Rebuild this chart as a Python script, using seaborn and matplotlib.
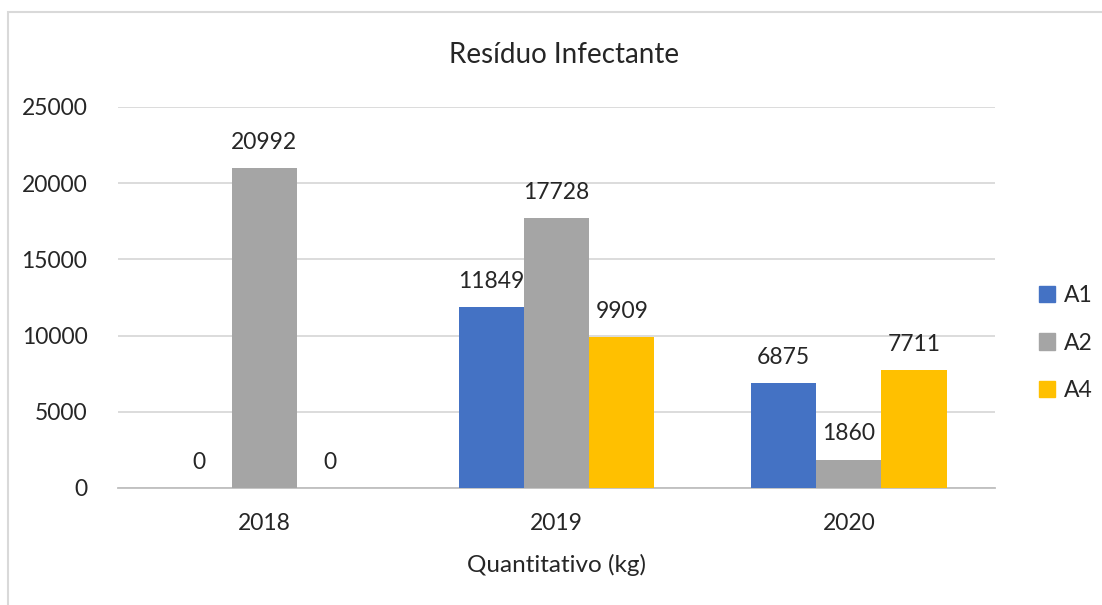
import numpy as np
import pandas as pd
import matplotlib.pyplot as plt
import seaborn as sns
from matplotlib.patches import Rectangle

# dados
anos = ["2018", "2019", "2020"]
series = ["A1", "A2", "A4"]
a1 = [0, 11849, 6875]
a2 = [20992, 17728, 1860]
a4 = [0, 9909, 7711]
cores = {"A1": "#4472C4", "A2": "#A5A5A5", "A4": "#FFC000"}

df = pd.DataFrame({
    "Ano": anos * 3,
    "Serie": ["A1"] * 3 + ["A2"] * 3 + ["A4"] * 3,
    "Valor": a1 + a2 + a4,
})

sns.set_theme(style="white")
plt.rcParams["font.family"] = ["Lato", "DejaVu Sans"]
txt = "#262626"
fs = 16.5

fig = plt.figure(figsize=(11.02, 6.05), dpi=100)
ax = fig.add_axes([118 / 1102, 1 - 488 / 605, 877 / 1102, 381 / 605])

# moldura do gráfico
fig.patches.append(Rectangle((8 / 1102, -0.1), 1.2, 1 - 12 / 605 + 0.1,
                             transform=fig.transFigure, fill=False,
                             edgecolor="#D9D9D9", linewidth=1.5))

sns.barplot(data=df, x="Ano", y="Valor", hue="Serie", hue_order=series,
            palette=cores, width=0.67, gap=0, saturation=1, ax=ax,
            legend=False, linewidth=0, zorder=3)

for cont in ax.containers:
    ax.bar_label(cont, fmt="%d", padding=11, fontsize=fs, color=txt)

ax.set_ylim(0, 25000)
ax.set_yticks(np.arange(0, 25001, 5000))
ax.yaxis.grid(True, color="#D9D9D9", linewidth=1.3, zorder=0)
ax.set_axisbelow(True)
for s in ["top", "right", "left"]:
    ax.spines[s].set_visible(False)
ax.spines["bottom"].set_color("#BFBFBF")
ax.spines["bottom"].set_linewidth(1.3)
ax.tick_params(axis="both", length=0, labelsize=fs, colors=txt)
ax.tick_params(axis="y", pad=22)
ax.tick_params(axis="x", pad=18)
ax.set_ylabel("")
ax.set_xlabel("Quantitativo (kg)", fontsize=17.5, color=txt, labelpad=14)
fig.text(0.512, 1 - 55 / 605, "Resíduo Infectante", ha="center", va="center",
         fontsize=20, color=txt)

# legenda
handles = [Rectangle((0, 0), 1, 1, color=cores[s]) for s in series]
fig.legend(handles, series, loc="center left", bbox_to_anchor=(1039 / 1102, 1 - 343 / 605),
           frameon=False, fontsize=fs, handlelength=0.7, handleheight=0.7,
           handletextpad=0.4, labelspacing=1.15, labelcolor=txt,
           borderpad=0, borderaxespad=0)

plt.savefig("out.png", dpi=100)
